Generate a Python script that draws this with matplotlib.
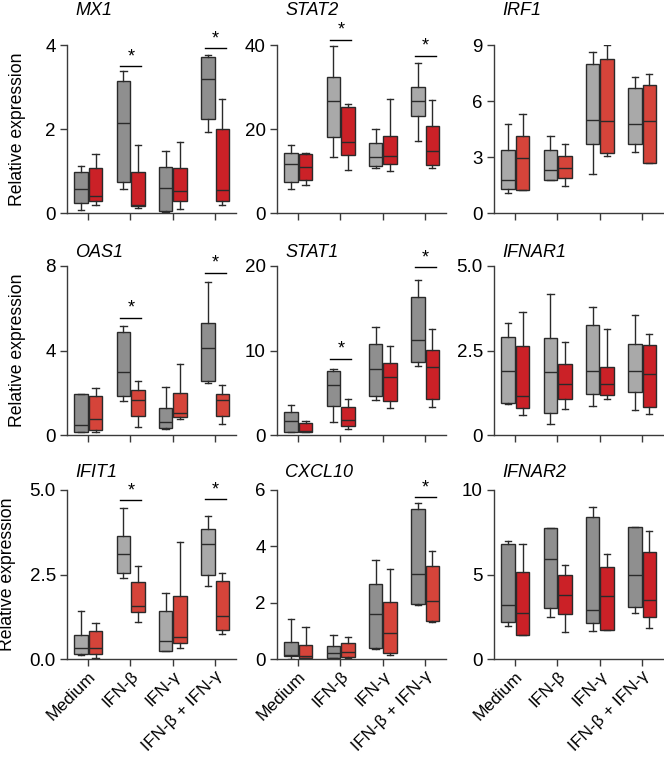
import matplotlib
matplotlib.use("Agg")
import matplotlib.pyplot as plt

plt.rcParams['font.family'] = ['Liberation Sans', 'DejaVu Sans']

groups = ["Medium", "IFN-β", "IFN-γ", "IFN-β + IFN-γ"]
genes = ["MX1", "STAT2", "IRF1", "OAS1", "STAT1", "IFNAR1", "IFIT1", "CXCL10", "IFNAR2"]

# each box: (whislo, q1, median, q3, whishi); per gene: list of 4 groups x (grey, red)
MX1 = [[(0.06, 0.24, 0.58, 0.97, 1.13), (0.20, 0.29, 0.41, 1.07, 1.40)],
       [(0.57, 0.73, 2.15, 3.15, 3.38), (0.13, 0.16, 0.20, 0.97, 1.62)],
       [(0.02, 0.04, 0.59, 1.09, 1.48), (0.10, 0.28, 0.53, 1.06, 1.68)],
       [(1.93, 2.23, 3.20, 3.71, 3.76), (0.20, 0.28, 0.55, 2.00, 2.71)]]
STAT2 = [[(5.8, 7.5, 11.6, 14.3, 16.2), (6.7, 7.9, 10.9, 14.0, 14.3)],
         [(13.3, 18.2, 26.6, 32.5, 39.8), (10.2, 13.8, 17.0, 25.3, 26.0)],
         [(10.7, 11.2, 13.3, 16.7, 19.9), (9.9, 11.6, 13.6, 18.3, 27.1)],
         [(17.2, 23.0, 26.6, 29.9, 35.7), (10.6, 11.4, 14.8, 20.6, 26.9)]]
IRF1 = [[(1.07, 1.30, 1.75, 3.38, 4.76), (1.25, 1.25, 2.92, 4.10, 5.28)],
        [(1.79, 1.79, 2.29, 3.36, 4.13), (1.45, 1.88, 2.40, 3.06, 3.72)],
        [(2.11, 3.72, 4.99, 7.98, 8.64), (3.04, 3.20, 4.92, 8.23, 9.00)],
        [(3.27, 3.69, 4.76, 6.67, 7.26), (2.70, 2.70, 4.94, 6.87, 7.46)]]
OAS1 = [[(0.16, 0.16, 0.47, 1.92, 1.92), (0.16, 0.24, 0.77, 1.86, 2.21)],
        [(1.62, 1.85, 3.00, 4.87, 5.17), (0.36, 0.91, 1.64, 2.11, 2.56)],
        [(0.28, 0.32, 0.62, 1.28, 2.29), (0.76, 0.85, 1.06, 1.99, 3.38)],
        [(2.48, 2.56, 4.10, 5.30, 7.26), (0.50, 0.88, 1.67, 1.96, 2.37)]]
STAT1 = [[(0.30, 0.35, 1.66, 2.68, 3.55), (0.30, 0.30, 0.47, 1.38, 1.70)],
         [(1.50, 3.43, 5.88, 7.57, 7.81), (0.67, 1.07, 1.74, 3.27, 4.26)],
         [(4.14, 4.62, 7.77, 10.8, 12.8), (3.23, 4.06, 6.86, 8.48, 10.5)],
         [(8.13, 8.60, 11.3, 16.3, 18.4), (3.27, 4.22, 8.05, 10.1, 12.5)]]
IFNAR1 = [[(0.93, 0.95, 1.89, 2.90, 3.30), (0.60, 0.81, 1.15, 2.64, 3.63)],
          [(0.34, 0.64, 1.86, 2.87, 4.18), (0.76, 1.07, 1.52, 2.10, 2.75)],
          [(0.85, 1.22, 1.88, 3.24, 3.80), (1.07, 1.17, 1.52, 2.01, 3.15)],
          [(0.73, 1.26, 1.90, 2.68, 3.55), (0.62, 0.82, 1.79, 2.66, 2.98)]]
IFIT1 = [[(0.11, 0.14, 0.34, 0.71, 1.41), (0.04, 0.14, 0.34, 0.84, 1.07)],
         [(2.39, 2.54, 3.10, 3.63, 4.47), (1.10, 1.40, 1.57, 2.27, 2.74)],
         [(0.25, 0.25, 0.54, 1.43, 1.96), (0.32, 0.47, 0.65, 1.87, 3.47)],
         [(2.17, 2.49, 3.41, 3.85, 4.24), (0.74, 0.86, 1.28, 2.30, 2.55)]]
CXCL10 = [[(0.01, 0.10, 0.13, 0.60, 1.43), (0.04, 0.05, 0.10, 0.49, 1.15)],
          [(0.04, 0.04, 0.23, 0.45, 0.84), (0.05, 0.07, 0.26, 0.57, 0.79)],
          [(0.36, 0.39, 1.58, 2.67, 3.53), (0.14, 0.23, 0.93, 2.04, 3.21)],
          [(1.90, 1.97, 3.01, 5.33, 5.53), (1.33, 1.35, 2.06, 3.29, 3.82)]]
IFNAR2 = [[(1.95, 2.17, 3.18, 6.80, 7.00), (1.41, 1.41, 2.72, 5.15, 6.82)],
          [(2.49, 3.00, 5.94, 7.75, 7.75), (1.59, 2.68, 3.78, 4.99, 5.59)],
          [(1.65, 2.11, 2.92, 8.43, 8.99), (1.71, 1.71, 3.72, 5.45, 6.22)],
          [(2.70, 3.06, 4.99, 7.83, 7.83), (1.81, 2.50, 3.48, 6.32, 7.59)]]

data = [MX1, STAT2, IRF1, OAS1, STAT1, IFNAR1, IFIT1, CXCL10, IFNAR2]

yticks = [[0, 2, 4], [0, 20, 40], [0, 3, 6, 9],
          [0, 4, 8], [0, 10, 20], [0, 2.5, 5.0],
          [0, 2.5, 5.0], [0, 2, 4, 6], [0, 5, 10]]
yticklabels = [["0", "2", "4"], ["0", "20", "40"], ["0", "3", "6", "9"],
               ["0", "4", "8"], ["0", "10", "20"], ["0", "2.5", "5.0"],
               ["0.0", "2.5", "5.0"], ["0", "2", "4", "6"], ["0", "5", "10"]]

# significance: (group index, bar height)
sig = [[(1, 3.5), (3, 3.93)], [(1, 41.3), (3, 37.5)], [],
       [(1, 5.55), (3, 7.68)], [(1, 9.03), (3, 19.84)], [],
       [(1, 4.69), (3, 4.72)], [(3, 5.75)], []]

grey_dark, grey_light = "#8f8f8f", "#a9a9a9"
red_dark, red_light = "#cb2127", "#d5443a"
colors = [(grey_dark, red_dark), (grey_light, red_dark), (grey_light, red_light),
          (grey_dark, red_light), (grey_dark, red_dark), (grey_light, red_dark),
          (grey_light, red_light), (grey_dark, red_light), (grey_dark, red_dark)]

W, H = 664, 761
fig = plt.figure(figsize=(W / 100, H / 100), dpi=100)
lefts = [67, 277, 494]
tops = [45, 266, 490]
bottoms = [213, 435, 659]
title_base = [15, 257, 477]
aw = 169

edge = "#2a2a2a"
spine_c = "#3a3a3a"
for i, gene in enumerate(genes):
    r, c = divmod(i, 3)
    ax = fig.add_axes([lefts[c] / W, 1 - bottoms[r] / H, aw / W, (bottoms[r] - tops[r]) / H])
    top = yticks[i][-1]
    for g in range(4):
        for k in range(2):
            lo, q1, med, q3, hi = data[i][g][k]
            st = [dict(whislo=lo, q1=q1, med=med, q3=q3, whishi=hi, fliers=[])]
            pos = g + (-0.165 if k == 0 else 0.175)
            ax.bxp(st, positions=[pos], widths=0.32, capwidths=0.15, patch_artist=True,
                   showfliers=False,
                   boxprops=dict(facecolor=colors[i][k], edgecolor=edge, linewidth=1.0),
                   medianprops=dict(color=edge, linewidth=1.0),
                   whiskerprops=dict(color=edge, linewidth=1.0),
                   capprops=dict(color=edge, linewidth=1.0))
    for g, yv in sig[i]:
        ax.plot([g - 0.24, g + 0.26], [yv, yv], color="black", lw=1.0, clip_on=False)
        ax.text(g + 0.01, yv + top * 0.005, "*", ha="center", va="bottom", fontsize=13)
    ax.set_xlim(-0.5, 3.5)
    ax.set_ylim(0, top)
    ax.set_yticks(yticks[i])
    ax.set_yticklabels(yticklabels[i], fontsize=13.5)
    ax.set_xticks(range(4))
    if r == 2:
        ax.set_xticklabels(groups, rotation=45, ha="right", va="top",
                           rotation_mode="anchor", fontsize=12.5)
    else:
        ax.set_xticklabels([])
    ax.tick_params(axis="both", length=5, width=1, color=spine_c, pad=3)
    ax.tick_params(axis="x", pad=2)
    for s in ["top", "right"]:
        ax.spines[s].set_visible(False)
    for s in ["left", "bottom"]:
        ax.spines[s].set_color(spine_c)
        ax.spines[s].set_linewidth(1.0)
    fig.text((lefts[c] + 8) / W, 1 - title_base[r] / H, gene, fontsize=13,
             style="italic", ha="left", va="baseline")
    if c == 0:
        ax.set_ylabel("Relative expression", fontsize=12.7)
        lx = 26 if r < 2 else 16
        ax.yaxis.set_label_coords((lx - lefts[c]) / aw, 0.5)

fig.savefig("out.png", dpi=100)
